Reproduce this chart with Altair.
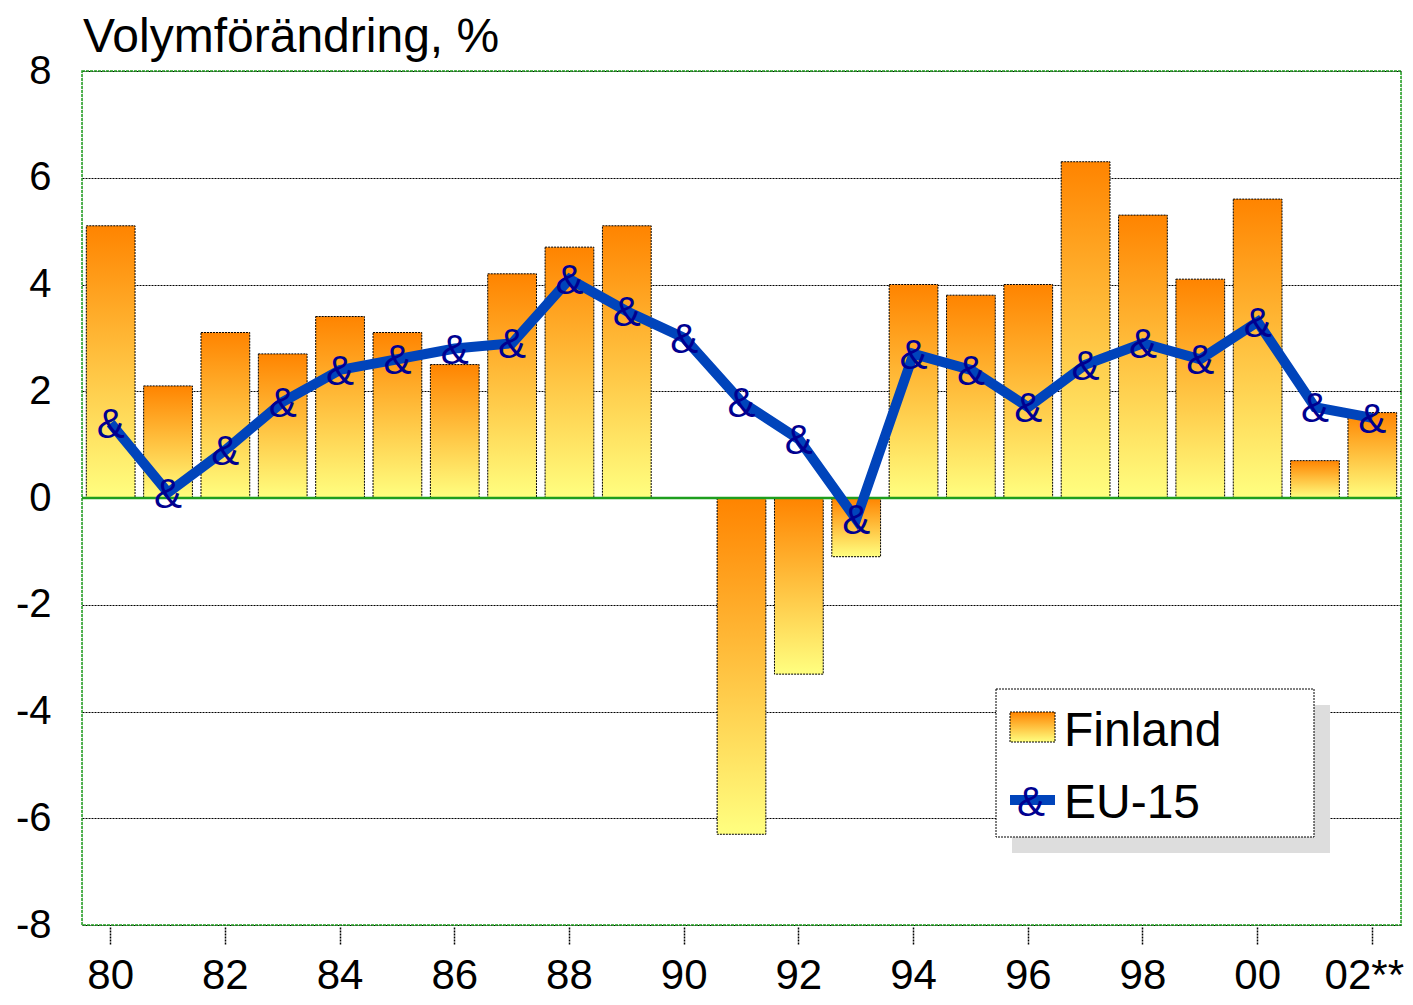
import altair as alt
import pandas as pd

years = ["80", "81", "82", "83", "84", "85", "86", "87", "88", "89", "90", "91",
         "92", "93", "94", "95", "96", "97", "98", "99", "00", "01", "02**"]
finland = [5.1, 2.1, 3.1, 2.7, 3.4, 3.1, 2.5, 4.2, 4.7, 5.1, 0.0, -6.3,
           -3.3, -1.1, 4.0, 3.8, 4.0, 6.3, 5.3, 4.1, 5.6, 0.7, 1.6]
eu15 = [1.4, 0.1, 0.9, 1.8, 2.4, 2.6, 2.8, 2.9, 4.1, 3.5, 3.0, 1.8,
        1.1, -0.4, 2.7, 2.4, 1.7, 2.5, 2.9, 2.6, 3.3, 1.7, 1.5]
x_tick_labels = ["80", "82", "84", "86", "88", "90", "92", "94", "96", "98", "00", "02**"]
y_ticks = [-8, -6, -4, -2, 0, 2, 4, 6, 8]
title_text = "Volymförändring, %"
legend_labels = ["Finland", "EU-15"]

df = pd.DataFrame({"year": years, "finland": finland, "eu": eu15})

W, H = 1319, 854
FONT = "Liberation Sans"
MARK_FONT = "Liberation Sans Narrow, Liberation Sans"
BLUE = "#0044BB"
MARK_COLOR = "#000090"
GREEN = "#1E9E1E"

grad = alt.Gradient(
    gradient="linear",
    stops=[alt.GradientStop(color="#FF8400", offset=0),
           alt.GradientStop(color="#FFFF80", offset=1)],
    x1=0, x2=0, y1=0, y2=1,
)

x_enc = alt.X(
    "year:N", sort=years, title=None,
    scale=alt.Scale(paddingInner=0.15, paddingOuter=0.075),
    axis=alt.Axis(values=x_tick_labels, labelAngle=0, labelFont=FONT, labelFontSize=42,
                  labelColor="black", labelPadding=44, tickSize=17, tickColor="black",
                  tickDash=[2, 1], tickWidth=1.5, domain=False, offset=2, grid=False,
                  labelBaseline="alphabetic",
                  labelOffset={"condition": {"test": "datum.label == '02**'", "value": -8},
                               "value": 0}),
)
y_scale = alt.Scale(domain=[-8, 8], nice=False)
y_axis = alt.Axis(values=y_ticks, grid=True, gridColor="black", gridDash=[2, 1], gridWidth=1,
                  domain=False, ticks=False, labelFont=FONT, labelFontSize=40,
                  labelColor="black", labelPadding=31, title=None,
                  labelExpr="'' + datum.value")

base = alt.Chart(df)

one = pd.DataFrame({"a": [0]})

border = alt.Chart(one).mark_rect(fill="transparent", stroke=GREEN, strokeDash=[3, 1],
                                  strokeWidth=1.5).encode(
    x=alt.value(0), x2=alt.value(W), y=alt.value(0), y2=alt.value(H))

bars = base.mark_bar(fill=grad, stroke="black", strokeDash=[2, 1], strokeWidth=1).encode(
    x=x_enc,
    y=alt.Y("finland:Q", scale=y_scale, axis=y_axis),
)

zero = alt.Chart(pd.DataFrame({"z": [0]})).mark_rule(color=GREEN, strokeWidth=2.5).encode(
    y=alt.Y("z:Q", scale=y_scale)
)

line = base.mark_line(color=BLUE, strokeWidth=10).encode(
    x=alt.X("year:N", sort=years),
    y=alt.Y("eu:Q", scale=y_scale),
)

markers = base.mark_text(text="&", font=MARK_FONT, fontSize=42,
                         color=MARK_COLOR, baseline="alphabetic", dy=15).encode(
    x=alt.X("year:N", sort=years),
    y=alt.Y("eu:Q", scale=y_scale),
)

title = alt.Chart(one).mark_text(text=title_text, font=FONT, fontSize=48, color="black",
                                 align="left", baseline="alphabetic").encode(
    x=alt.value(1), y=alt.value(-19))

legend_shadow = alt.Chart(one).mark_rect(fill="#DDDDDD").encode(
    x=alt.value(930), x2=alt.value(1248), y=alt.value(634), y2=alt.value(782))
legend_box = alt.Chart(one).mark_rect(fill="white", stroke="black", strokeDash=[2, 1],
                                      strokeWidth=1).encode(
    x=alt.value(914), x2=alt.value(1232), y=alt.value(618), y2=alt.value(766))
legend_swatch = alt.Chart(one).mark_rect(fill=grad, stroke="black", strokeDash=[2, 1],
                                         strokeWidth=1).encode(
    x=alt.value(928), x2=alt.value(973), y=alt.value(641), y2=alt.value(671))
legend_line = alt.Chart(one).mark_rule(color=BLUE, strokeWidth=10).encode(
    x=alt.value(928), x2=alt.value(973), y=alt.value(729))
legend_mark = alt.Chart(one).mark_text(text="&", font=MARK_FONT, fontSize=42,
                                       color=MARK_COLOR, baseline="alphabetic",
                                       dy=15).encode(x=alt.value(949), y=alt.value(730))
legend_t1 = alt.Chart(one).mark_text(text=legend_labels[0], font=FONT, fontSize=48, color="black",
                                     align="left", baseline="alphabetic").encode(
    x=alt.value(982), y=alt.value(675))
legend_t2 = alt.Chart(one).mark_text(text=legend_labels[1], font=FONT, fontSize=48, color="black",
                                     align="left", baseline="alphabetic").encode(
    x=alt.value(982), y=alt.value(747))

chart = alt.layer(
    border, bars, zero, line, markers, title,
    legend_shadow, legend_box, legend_swatch, legend_line, legend_mark, legend_t1, legend_t2,
).properties(
    width=W, height=H,
    autosize=alt.AutoSizeParams(type="none"),
    padding={"left": 74, "top": 63, "right": 4, "bottom": 72},
).configure_view(
    stroke=None
).configure(background="white")

chart.save("out.html", embed_options={"renderer": "svg", "actions": False})
